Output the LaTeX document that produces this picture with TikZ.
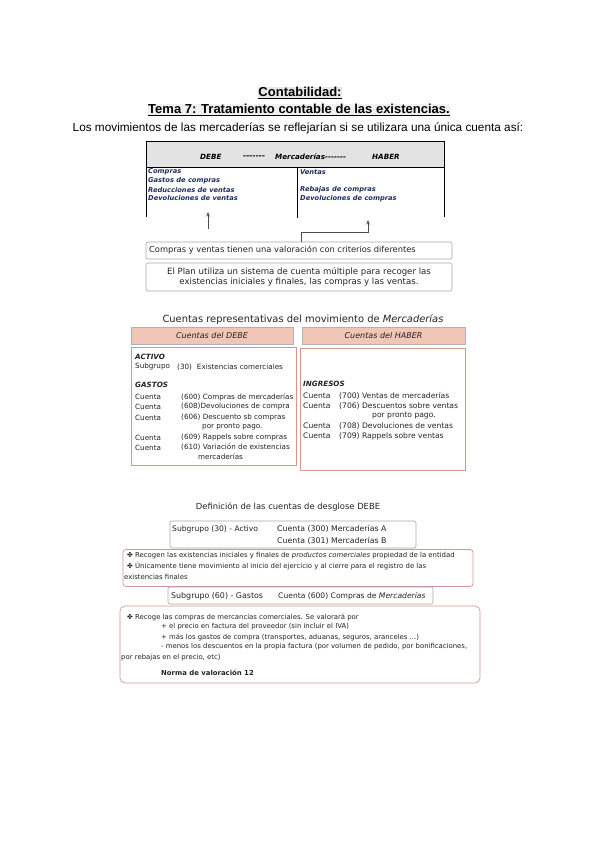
\documentclass[tikz,border=0pt]{standalone}
\usepackage{fontspec}
\setmainfont{Liberation Sans}
\newfontfamily\tah{DejaVu Sans}
\usetikzlibrary{arrows.meta}
\definecolor{navy}{HTML}{1F2D5C}
\definecolor{salmon}{HTML}{F2C6B6}
\definecolor{rosy}{HTML}{D49590}
\definecolor{ink}{HTML}{222222}
\begin{document}
\begin{tikzpicture}[x=1pt,y=-1pt,
  lbl/.style={inner sep=0pt, anchor=west, text=ink, font=\tah\fontsize{7.6}{8}\selectfont},
  lbll/.style={lbl, font=\tah\fontsize{7.2}{8}\selectfont},
  small/.style={inner sep=0pt, anchor=west, text=ink, font=\tah\fontsize{6.9}{7}\selectfont},
  tacc/.style={inner sep=0pt, anchor=west, text=navy, font=\tah\bfseries\itshape\fontsize{6.7}{7}\selectfont},
  thead/.style={inner sep=0pt, anchor=west, text=black, font=\tah\bfseries\itshape\fontsize{7.2}{8}\selectfont},
  greybox/.style={draw=gray!70, rounded corners=2pt, line width=0.6pt, inner sep=0pt},
  pinkbox/.style={draw=rosy, rounded corners=5pt, line width=0.7pt, inner sep=0pt},
  headbox/.style={draw=gray!60, fill=salmon, inner sep=0pt, minimum height=17pt, text=ink, font=\tah\itshape\fontsize{8}{9}\selectfont},
  tline/.style={line width=0.9pt, draw=black},
  arr/.style={draw=gray!60!black, line width=0.7pt, -{Stealth[length=4.5pt,width=3.5pt]}}
]
\useasboundingbox (0,0) rectangle (600,848);

% Titles
\node[fill=gray!18, inner sep=0.5pt, font=\bfseries\fontsize{13}{14}\selectfont] (t1) at (300,93) {\underline{Contabilidad:}};
\node[fill=gray!12, inner sep=0.5pt, font=\bfseries\fontsize{13}{14}\selectfont] (t2) at (299,110) {\underline{Tema 7: Tratamiento contable de las existencias.}};
\node[inner sep=0pt, font=\fontsize{11.8}{13}\selectfont] (t3) at (298,128) {Los movimientos de las mercaderías se reflejarían si se utilizara una única cuenta así:};

% T account
\fill[gray!22] (146,141) rectangle (444,167);
\draw[line width=0.5pt] (146,141) -- (444,141);
\draw[line width=0.5pt] (146,167) -- (444,167);
\draw[tline] (146,141) -- (146,217);
\draw[tline] (444,141) -- (444,217);
\draw[tline] (297,167) -- (297,218);
\node[thead] (debe) at (200,157) {DEBE};
\node[thead] (dash) at (243,157) {\resizebox{22pt}{!}{-------}};
\node[thead] (merc) at (275,157) {Mercaderías-------};
\node[thead] (haber) at (372,157) {HABER};
\node[tacc] (d1) at (148,172) {Compras};
\node[tacc] (d2) at (148,181) {Gastos de compras};
\node[tacc] (d3) at (148,190) {Reducciones de ventas};
\node[tacc] (d4) at (148,198.5) {Devoluciones de ventas};
\node[tacc] (h1) at (300,172) {Ventas};
\node[tacc] (h2) at (300,190) {Rebajas de compras};
\node[tacc] (h3) at (300,198.5) {Devoluciones de compras};

% arrows
\coordinate (a1s) at (208,229);
\coordinate (a1e) at (208,212);
\draw[arr] (a1s) -- (a1e);

% boxes
\node[greybox, minimum width=306pt, minimum height=17pt] (b1) at (299,250.5) {};
\node[lbl, font=\tah\fontsize{8.3}{9}\selectfont] (b1t) at (149,250.5) {Compras y ventas tienen una valoración con criterios diferentes};
\node[greybox, minimum width=306pt, minimum height=28pt, align=center, font=\tah\fontsize{8.6}{10.5}\selectfont, text=ink] (b2) at (299,277) {El Plan utiliza un sistema de cuenta múltiple para recoger las\\existencias iniciales y finales, las compras y las ventas.};

\coordinate (a2a) at (301,232);
\coordinate (a2b) at (368,232);
\coordinate (a2e) at (368,220);
\draw[arr] (b1.north -| a2a) -- (a2a) -- (a2b) -- (a2e);

% Cuentas representativas
\node[inner sep=0pt, text=ink, font=\tah\fontsize{9.9}{11}\selectfont] (cr) at (303,320) {Cuentas representativas del movimiento de \textit{Mercaderías}};
\node[headbox, minimum width=162pt] (hd) at (212,336) {Cuentas del DEBE};
\node[headbox, minimum width=163pt] (hh) at (383.5,336) {Cuentas del HABER};
\node[draw=rosy, line width=0.7pt, minimum width=165pt, minimum height=118pt, inner sep=0pt] (ld) at (213.5,406) {};
\node[draw=rosy, line width=0.7pt, minimum width=165pt, minimum height=122pt, inner sep=0pt] (lh) at (382.5,409) {};

\node[thead, text=ink] (act) at (135,357) {ACTIVO};
\node[lbll] (sg) at (135,367) {Subgrupo};
\node[lbll] (sg2) at (177,367) {(30)\hspace{5pt}Existencias comerciales};
\node[thead, text=ink] (gas) at (135,385) {GASTOS};
\node[lbll] (c1) at (135,397) {Cuenta};
\node[lbll] (c1b) at (181,397) {(600) Compras de mercaderías};
\node[lbll] (c2) at (135,407) {Cuenta};
\node[lbll] (c2b) at (181,407) {(608)Devoluciones de compra};
\node[lbll] (c3) at (135,417.5) {Cuenta};
\node[lbll] (c3b) at (181,417.5) {(606) Descuento sb compras};
\node[lbll] (c3c) at (202,427) {por pronto pago.};
\node[lbll] (c4) at (135,438) {Cuenta};
\node[lbll] (c4b) at (181,438) {(609) Rappels sobre compras};
\node[lbll] (c5) at (135,447.5) {Cuenta};
\node[lbll] (c5b) at (181,447.5) {(610) Variación de existencias};
\node[lbll] (c5c) at (198,457) {mercaderías};

\node[thead, text=ink] (ing) at (303,384) {INGRESOS};
\node[lbl] (v1) at (303,396) {Cuenta};
\node[lbl] (v1b) at (339,396) {(700) Ventas de mercaderías};
\node[lbl] (v2) at (303,406) {Cuenta};
\node[lbl] (v2b) at (339,406) {(706) Descuentos sobre ventas};
\node[lbl] (v2c) at (372,416) {por pronto pago.};
\node[lbl] (v3) at (303,426) {Cuenta};
\node[lbl] (v3b) at (339,426) {(708) Devoluciones de ventas};
\node[lbl] (v4) at (303,436) {Cuenta};
\node[lbl] (v4b) at (339,436) {(709) Rappels sobre ventas};

% Definicion
\node[inner sep=0pt, text=ink, font=\tah\fontsize{8.4}{9}\selectfont] (def) at (288,507) {Definición de las cuentas de desglose DEBE};
\node[greybox, minimum width=246pt, minimum height=27pt] (s30) at (293,534.5) {};
\node[lbl, font=\tah\fontsize{7.6}{9}\selectfont] (s30a) at (172,529) {Subgrupo (30) - Activo};
\node[lbl, font=\tah\fontsize{7.8}{9}\selectfont] (s30b) at (277,529) {Cuenta (300) Mercaderías A};
\node[lbl, font=\tah\fontsize{7.8}{9}\selectfont] (s30c) at (277,541) {Cuenta (301) Mercaderías B};

\node[pinkbox, rounded corners=3pt, minimum width=350pt, minimum height=37pt] (p1) at (298,568) {};
\node[small] (p1a) at (127,556) {✤ Recogen las existencias iniciales y finales de \textit{productos comerciales} propiedad de la entidad};
\node[small] (p1b) at (127,566) {✤ Únicamente tiene movimiento al inicio del ejercicio y al cierre para el registro de las};
\node[small] (p1c) at (124,577) {existencias finales};

\node[greybox, minimum width=265pt, minimum height=17pt] (s60) at (300.5,595.5) {};
\node[lbl, font=\tah\fontsize{7.9}{9}\selectfont] (s60a) at (171,596) {Subgrupo (60) - Gastos};
\node[lbl, font=\tah\fontsize{7.6}{9}\selectfont] (s60b) at (278,596) {Cuenta (600) Compras de \textit{Mercaderías}};

\node[pinkbox, minimum width=360pt, minimum height=77pt] (p2) at (300,644.5) {};
\node[small] (q1) at (127,617) {✤ Recoge las compras de mercancías comerciales. Se valorará por};
\node[small] (q2) at (161,627) {+ el precio en factura del proveedor (sin incluir el IVA)};
\node[small] (q3) at (161,637) {+ más los gastos de compra (transportes, aduanas, seguros, aranceles ...)};
\node[small] (q4) at (161,647) {- menos los descuentos en la propia factura (por volumen de pedido, por bonificaciones,};
\node[small] (q5) at (121,657.5) {por rebajas en el precio, etc)};
\node[small, font=\tah\bfseries\fontsize{6.9}{7}\selectfont] (q6) at (161,673) {Norma de valoración 12};
\end{tikzpicture}
\end{document}
